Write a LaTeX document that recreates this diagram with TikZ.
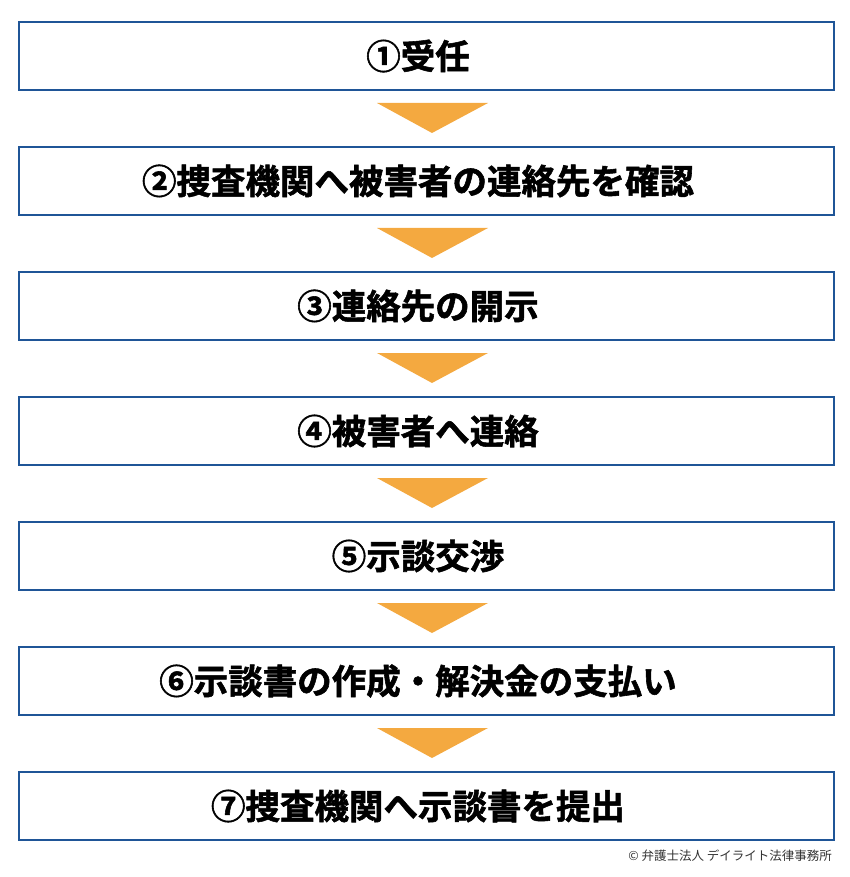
\documentclass[tikz,border=0pt]{standalone}
\usepackage{fontspec}
\setmainfont{Noto Sans CJK JP}[BoldFont={Noto Sans CJK JP Bold},BoldFeatures={FakeBold=1.6}]
\definecolor{boxblue}{HTML}{1F5597}
\definecolor{arrorange}{HTML}{F4A940}
\definecolor{foot}{HTML}{333333}
\begin{document}
\begin{tikzpicture}[x=1pt,y=-1pt,
  stepbox/.style={draw=boxblue,line width=2pt,fill=white,minimum width=815pt,minimum height=68pt,inner sep=0pt},
  steptext/.style={font=\fontsize{34.5}{34.5}\selectfont\bfseries,text=black,inner sep=0pt},
  tri/.style={fill=arrorange,draw=none}]
\useasboundingbox (0,0) rectangle (850,877);
\foreach \i/\t in {1/{①受任},2/{②捜査機関へ被害者の連絡先を確認},3/{③連絡先の開示},4/{④被害者へ連絡},5/{⑤示談交渉},6/{⑥示談書の作成・解決金の支払い},7/{⑦捜査機関へ示談書を提出}}{
  \pgfmathsetmacro{\yy}{22+125*(\i-1)}
  \node[stepbox] (b\i) at (426.5,\yy+34) {};
  \node[steptext] (t\i) at (418,\yy+34) {\t};
}
\foreach \i in {1,...,6}{
  \pgfmathsetmacro{\yy}{22+125*(\i-1)+81}
  \fill[tri] (377,\yy) -- (488,\yy) -- (432,\yy+30) -- cycle;
}
\node[font=\fontsize{12.5}{12.5}\selectfont,text=foot,anchor=east,inner sep=0pt] (foot) at (832,856) {© 弁護士法人 デイライト法律事務所};
\end{tikzpicture}
\end{document}
